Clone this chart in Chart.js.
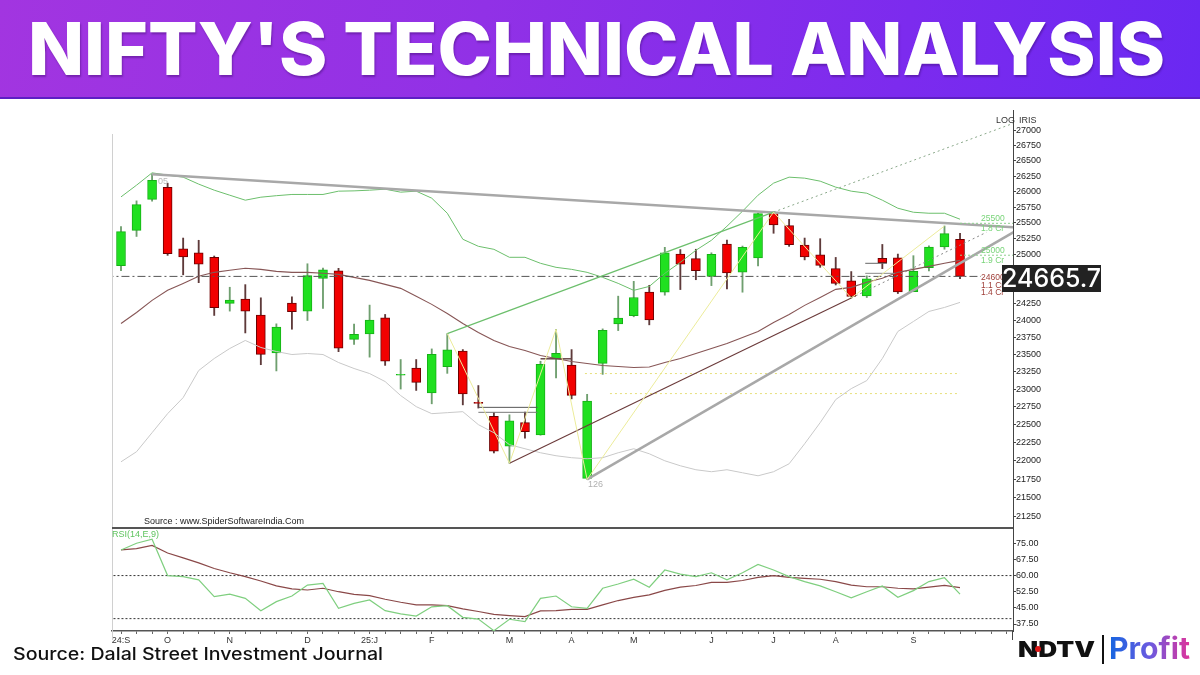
<!DOCTYPE html>
<html>
<head>
<meta charset="utf-8">
<script src="https://cdn.jsdelivr.net/npm/chart.js@4.4.1/dist/chart.umd.min.js"></script>
<style>
  html,body{margin:0;padding:0;background:#fff;}
  body{width:1200px;height:675px;position:relative;overflow:hidden;font-family:'Liberation Sans',Arial,sans-serif;}
  .abs{position:absolute;}
  #banner{left:0;top:0;width:1200px;height:97px;background:linear-gradient(100deg,#a235e0 0%,#9131e6 40%,#7c2bee 75%,#6a28f2 100%);border-bottom:2px solid #5d1fc4;}
  #title{left:28px;top:11.7px;font-family:Inter,'Open Sans',sans-serif;font-weight:800;font-size:73px;line-height:73px;color:#fff;white-space:nowrap;transform-origin:0 0;text-shadow:1px 2px 2px rgba(40,0,80,0.35);}
  canvas{position:absolute;left:0;}
  #cMain{top:100px;}
  #cRsi{top:528px;}
  .small{font-size:9px;font-family:'Liberation Sans',Arial,sans-serif;white-space:nowrap;line-height:10px;}
</style>
</head>
<body>
<div id="banner" class="abs"></div>
<div id="title" class="abs">NIFTY'S TECHNICAL ANALYSIS</div>
<canvas id="cMain" width="1200" height="428"></canvas>
<canvas id="cRsi" width="1200" height="122"></canvas>
<div class="abs" style="left:112px;top:134px;width:1px;height:506px;background:#d0d0d0"></div>
<div class="abs" style="left:112px;top:527px;width:901px;height:2px;background:#555"></div>
<div class="abs" style="left:1012px;top:631px;width:1px;height:9px;background:#444"></div>
<div class="abs small" style="left:996px;top:115px;color:#333">LOG</div>
<div class="abs small" style="left:1019px;top:115px;color:#333">IRIS</div>
<div class="abs small" style="left:144px;top:516px;color:#222">Source : www.SpiderSoftwareIndia.Com</div>
<div class="abs small" style="left:112px;top:529px;color:#5fc45f">RSI(14,E,9)</div>
<div class="abs small" style="left:158px;top:176px;color:#b8b8b8">05</div>
<div class="abs small" style="left:588px;top:479px;color:#b0b0b0">126</div>
<div id="lastBox" class="abs" style="left:1002px;top:265px;width:99px;height:27px;background:#222;color:#fff;font-family:Inter,sans-serif;font-weight:500;font-size:25px;line-height:27px;text-align:center;"></div>
<div id="src" class="abs" style="left:13px;top:646px;font-family:Inter,sans-serif;font-weight:500;font-size:17px;line-height:17px;color:#111;white-space:nowrap;transform-origin:0 0;">Source: Dalal Street Investment Journal</div>
<div id="ndtv" class="abs" style="left:1018px;top:638px;font-family:Inter,sans-serif;font-weight:900;font-size:21px;line-height:24px;color:#111;white-space:nowrap;transform-origin:0 0;">NDTV</div>
<div class="abs" style="left:1035px;top:646px;width:6px;height:6px;border-radius:3px;background:#e01818"></div>
<div class="abs" style="left:1102px;top:635px;width:2px;height:29px;background:#111"></div>
<div id="profit" class="abs" style="left:1109px;top:630px;font-family:Inter,sans-serif;font-weight:700;font-size:30px;line-height:36px;white-space:nowrap;background:linear-gradient(90deg,#1565e0,#6a5ae0 50%,#e0339a);-webkit-background-clip:text;background-clip:text;color:transparent;transform-origin:0 0;">Profit</div>
<script>
// ---------- DATA ----------
const weekStarts = ['2024-09-09','2024-09-16','2024-09-23','2024-09-30','2024-10-07','2024-10-14','2024-10-21','2024-10-28','2024-11-04','2024-11-11','2024-11-18','2024-11-25','2024-12-02','2024-12-09','2024-12-16','2024-12-23','2024-12-30','2025-01-06','2025-01-13','2025-01-20','2025-01-27','2025-02-03','2025-02-10','2025-02-17','2025-02-24','2025-03-03','2025-03-10','2025-03-17','2025-03-24','2025-03-31','2025-04-07','2025-04-14','2025-04-21','2025-04-28','2025-05-05','2025-05-12','2025-05-19','2025-05-26','2025-06-02','2025-06-09','2025-06-16','2025-06-23','2025-06-30','2025-07-07','2025-07-14','2025-07-21','2025-07-28','2025-08-04','2025-08-11','2025-08-18','2025-08-25','2025-09-01','2025-09-08','2025-09-15','2025-09-22'];
const opens  = [24830,25380,25875,26070,25090,25030,24960,24255,24320,24080,23520,24260,24140,24635,24750,23720,23800,24040,23200,23300,22945,23320,23550,22810,22615,22200,22525,22355,23435,23345,21760,23370,23950,24070,24425,24425,25010,24940,24665,25165,24730,24950,25665,25455,25150,25000,24785,24598,24370,24945,24950,24432,24800,25120,25240];
const highs  = [25440,25850,26280,26135,25260,25225,24980,24500,24540,24340,23950,24355,24860,24795,24790,23945,24230,24090,23425,23425,23580,23805,23570,23050,22665,22635,22675,23400,23870,23570,22925,23875,24365,24590,24530,25115,25080,25085,25030,25230,25135,25655,25670,25555,25260,25250,24958,24740,24675,25160,25010,24985,25140,25450,25335];
const lows   = [24755,25285,25845,24990,24690,24570,24075,24140,23815,23350,23260,23870,24000,24180,23540,23645,23460,23340,23000,22980,22790,23225,22775,22730,22105,21965,22310,22350,23160,22860,21745,23210,23850,24055,23935,24380,24465,24615,24525,24475,24425,24825,25335,25130,24920,24805,24535,24337,24345,24785,24405,24432,24750,25085,24630];
const closes = [25360,25790,26180,25015,24965,24855,24190,24305,24140,23500,23900,24130,24680,24765,23590,23795,24005,23400,23210,23095,23500,23565,22930,22795,22130,22550,22400,23355,23515,22910,22830,23855,24035,24345,24010,25030,24855,24755,25005,24720,25115,25645,25465,25155,24965,24835,24560,24360,24630,24875,24430,24745,25120,25330,24665.7];

const bbUpper  = [25914,26103,26304,26266,26233,26120,26022,25941,25861,25909,25933,25953,25953,25953,26006,26011,26022,26038,25990,26006,25893,25652,25241,25131,25084,24960,24960,24867,24805,24774,24728,24651,24559,24453,24513,24713,24882,25069,25225,25446,25684,25941,26136,26233,26217,26168,26071,26006,25973,25861,25732,25668,25652,25652,25557];
const bbMiddle = [23956,24120,24301,24453,24559,24667,24728,24759,24790,24774,24743,24728,24728,24713,24697,24651,24605,24544,24483,24362,24241,24105,23956,23822,23704,23616,23557,23484,23440,23396,23367,23338,23324,23309,23316,23382,23440,23513,23586,23660,23748,23837,23971,24090,24226,24346,24468,24498,24575,24636,24728,24774,24820,24867,24913];
const bbLower  = [21984,22122,22385,22651,22878,23266,23440,23586,23704,23601,23542,23498,23513,23498,23382,23295,23222,23107,22907,22750,22651,22665,22679,22497,22385,22219,22163,22108,22067,22040,22026,22040,22108,22163,22094,21998,21930,21876,21849,21876,21835,21794,21849,21957,22232,22525,22850,23006,23121,23440,23837,23985,24135,24195,24271];

const rsiValues = [71.9,75,76.9,60,59.5,58,50.2,51.4,49.4,43.7,47.9,50.5,55.6,56.4,44.8,47.1,48.7,43.7,42.2,41.2,45.5,46,40.6,39.8,34.4,39.7,38.6,49.4,50.5,45.5,44.8,54.1,56.1,58.3,54.6,62.6,60.7,59.5,61.3,58,61.3,65.2,62.6,59.5,57.2,55.2,52.5,49.7,52.5,55.2,49.9,53,57.2,59,51.4];
const rsiSignal = [71.9,72.5,74,70.5,68.2,65.9,63.3,61.3,59.5,57.5,55.2,53.8,53.3,54.1,52.5,51.3,50.7,49,47.6,46.4,46.4,46,44.5,43.3,42,41.4,40.9,43.6,43.7,44.3,44.3,46.4,48.4,49.9,51,53.1,54.6,55.4,56.8,56.8,57.7,59.2,60,59.2,58.7,58.3,57.2,55.6,54.8,54.8,54.1,53.8,54.6,55.4,54.4];
const rsiLevels = [60, 40];

const priceTicks = [21250,21500,21750,22000,22250,22500,22750,23000,23250,23500,23750,24000,24250,24500,24750,25000,25250,25500,25750,26000,26250,26500,26750,27000];
const rsiTicks = [37.5,45,52.5,60,67.5,75];
const xTickIdx  = [0,3,7,12,16,20,25,29,33,38,42,46,51];
const xTickText = ['24:S','O','N','D','25:J','F','M','A','M','J','J','A','S'];

// trend lines (week index, price)
const resistX = [2, 58],       resistY = [26280, 25420];
const supportX = [30, 58],     supportY = [21745, 25430];
const channelX = [21, 42],     channelY = [23805, 25670];
const channelExtX = [42, 58],  channelExtY = [25670, 27180];
const marchTrendX = [25, 47],  marchTrendY = [21965, 24337];
const marchExtX = [47, 55.7],  marchExtY = [24337, 25350];
const zigzagX = [21, 25, 28, 30, 42, 47, 53];
const zigzagY = [23805, 21965, 23870, 21745, 25670, 24337, 25450];
const fibAX = [29.86, 54], fibAY = [23222, 23222];
const fibBX = [31.47, 54], fibBY = [22935, 22935];
const gapAX = [23, 26.8], gapAY = [22740, 22740];
const gapBX = [23, 26.8], gapBY = [22670, 22670];
const gapCX = [27, 29],   gapCY = [23436, 23436];
const gapDX = [47.9, 49.3], gapDY = [24867, 24867];
const gapEX = [47.9, 49.8], gapEY = [24713, 24713];
const lastLineX = [-1, 55.35];
const markerLevels = [25500, 25000];
const markerVol = ['1.8 Cr', '1.9 Cr'];
const closeMarker = ['24600', '1.1 Cr', '1.4 Cr'];

// ---------- HELPERS ----------
const X_MIN = -0.5793, X_MAX = 57.41;
const idx = weekStarts.map((w, i) => i);
const lastClose = closes[closes.length - 1];
const lastLineY = [lastClose, lastClose];

function line(xs, ys, color, width, dash, order) {
  return {type: 'line', data: xs.map((x, i) => ({x: x, y: ys[i]})), borderColor: color, borderWidth: width,
    borderDash: dash || [], pointRadius: 0, pointHoverRadius: 0, fill: false, tension: 0, order: order || 5};
}

document.getElementById('lastBox').textContent = lastClose.toFixed(1);

function fitWidth(id, w) {
  const el = document.getElementById(id);
  const r = el.getBoundingClientRect().width;
  el.style.transform = 'scaleX(' + (w / r) + ')';
}
fitWidth('title', 1137);
fitWidth('src', 370);
fitWidth('ndtv', 77);
fitWidth('profit', 81);

const up = weekStarts.map((w, i) => closes[i] >= opens[i]);
const bodyData = weekStarts.map((w, i) => ({x: i, y: [opens[i], closes[i]]}));
const wickData = weekStarts.map((w, i) => ({x: i, y: [lows[i], highs[i]]}));

const tickFont = {family: "'Liberation Sans', Arial, sans-serif", size: 9};

const markerPlugin = {
  id: 'markers',
  afterDatasetsDraw(chart) {
    const ctx = chart.ctx, y = chart.scales.y;
    ctx.save();
    ctx.font = "8.5px 'Liberation Sans', Arial, sans-serif";
    ctx.lineWidth = 1;
    markerLevels.forEach((lv, k) => {
      const py = y.getPixelForValue(lv);
      ctx.strokeStyle = '#8fcf8f';
      ctx.setLineDash([2, 2]);
      ctx.beginPath(); ctx.moveTo(960, py + 0.5); ctx.lineTo(1013, py + 0.5); ctx.stroke();
      ctx.fillStyle = '#78d478';
      ctx.fillText(String(lv), 981, py - 2);
      ctx.fillText(markerVol[k], 981, py + 8.5);
    });
    const pc = y.getPixelForValue(lastClose);
    ctx.fillStyle = '#a0403a';
    ctx.fillText(closeMarker[0], 981, pc + 3.5);
    ctx.fillText(closeMarker[1], 981, pc + 12);
    ctx.fillText(closeMarker[2], 981, pc + 19);
    ctx.restore();
  }
};

// ---------- MAIN PRICE CHART ----------
new Chart(document.getElementById('cMain'), {
  type: 'bar',
  data: {
    datasets: [
      {type: 'bar', data: wickData, grouped: false, barThickness: 1.2, order: 100,
       backgroundColor: up.map(u => u ? '#6f9f6f' : '#5e3a3a')},
      {type: 'bar', data: bodyData, grouped: false, barThickness: 9, order: 99, borderWidth: 1, borderSkipped: false,
       backgroundColor: up.map(u => u ? '#20e020' : '#f20000'),
       borderColor: up.map(u => u ? '#16b016' : '#6e0000')},
      line(idx, bbUpper, '#6cbf6c', 1, [], 10),
      line(idx, bbLower, '#c9c9c9', 1, [], 10),
      line(idx, bbMiddle, '#875656', 1.1, [], 9),
      line(lastLineX, lastLineY, '#555', 1, [8, 3, 2, 3], 8),
      line(fibAX, fibAY, '#e6df7a', 1, [2, 3], 8),
      line(fibBX, fibBY, '#e6df7a', 1, [2, 3], 8),
      line(gapAX, gapAY, '#555', 1, [], 7),
      line(gapBX, gapBY, '#777', 1, [], 7),
      line(gapCX, gapCY, '#6a4a4a', 1.5, [], 7),
      line(gapDX, gapDY, '#666', 1, [], 7),
      line(gapEX, gapEY, '#888', 1, [], 7),
      line(resistX, resistY, '#a8a8a8', 2.5, [], 6),
      line(supportX, supportY, '#a8a8a8', 2.5, [], 6),
      line(channelX, channelY, '#6cbf6c', 1.2, [], 5),
      line(channelExtX, channelExtY, '#8aa88a', 1, [2, 3], 5),
      line(marchTrendX, marchTrendY, '#6b3a3a', 1.1, [], 5),
      line(marchExtX, marchExtY, '#888', 1, [2, 3], 5),
      line(zigzagX, zigzagY, '#ecec9a', 1, [], 4)
    ]
  },
  options: {
    responsive: false, animation: false, maintainAspectRatio: false,
    layout: {padding: {left: 112, top: 10, right: 0, bottom: 0}},
    plugins: {legend: {display: false}, tooltip: {enabled: false}},
    events: [],
    scales: {
      x: {type: 'linear', min: X_MIN, max: X_MAX, display: false, offset: false, grid: {offset: false}},
      y: {type: 'logarithmic', position: 'right', min: 21099, max: 27350, bounds: 'data',
          afterFit(s) { s.width = 187; s.paddingTop = 0; s.paddingBottom = 0; },
          afterBuildTicks(s) { s.ticks = priceTicks.map(v => ({value: v})); },
          ticks: {callback: v => String(v), font: tickFont, color: '#222', padding: 0, autoSkip: false},
          grid: {drawOnChartArea: false, drawTicks: true, tickLength: 3, tickColor: '#444'},
          border: {color: '#444', width: 1}}
    }
  },
  plugins: [markerPlugin]
});

// ---------- RSI CHART ----------
new Chart(document.getElementById('cRsi'), {
  type: 'line',
  data: {
    datasets: [
      line(lastLineX.map((v, i) => i === 0 ? -1 : 58), [rsiLevels[0], rsiLevels[0]], '#333', 1, [2, 2], 5),
      line(lastLineX.map((v, i) => i === 0 ? -1 : 58), [rsiLevels[1], rsiLevels[1]], '#333', 1, [2, 2], 5),
      line(idx, rsiSignal, '#8a4848', 1.2, [], 2),
      line(idx, rsiValues, '#7fcf7f', 1.2, [], 1)
    ]
  },
  options: {
    responsive: false, animation: false, maintainAspectRatio: false,
    layout: {padding: {left: 112, top: 0, right: 0, bottom: 0}},
    plugins: {legend: {display: false}, tooltip: {enabled: false}},
    events: [],
    scales: {
      x: {type: 'linear', min: X_MIN, max: X_MAX, offset: false, bounds: 'data',
          afterFit(s) { s.height = 19; s.paddingLeft = 0; s.paddingRight = 0; },
          afterBuildTicks(s) { s.ticks = Array.from({length: 58}, (v, i) => ({value: i})); },
          ticks: {autoSkip: false, maxRotation: 0, minRotation: 0, padding: 1, font: tickFont, color: '#333',
                  callback: v => { const k = xTickIdx.indexOf(v); return k >= 0 ? xTickText[k] : ''; }},
          grid: {drawOnChartArea: false, drawTicks: true, tickLength: 3, tickColor: '#666', offset: false},
          border: {color: '#555', width: 1.5}},
      y: {type: 'linear', position: 'right', min: 34.25, max: 82.1, bounds: 'data',
          afterFit(s) { s.width = 187; s.paddingTop = 0; s.paddingBottom = 0; },
          afterBuildTicks(s) { s.ticks = rsiTicks.map(v => ({value: v})); },
          ticks: {callback: v => Number(v).toFixed(2), font: tickFont, color: '#222', padding: 0, autoSkip: false},
          grid: {drawOnChartArea: false, drawTicks: true, tickLength: 3, tickColor: '#444'},
          border: {color: '#444', width: 1}}
    }
  }
});
</script>
</body>
</html>
